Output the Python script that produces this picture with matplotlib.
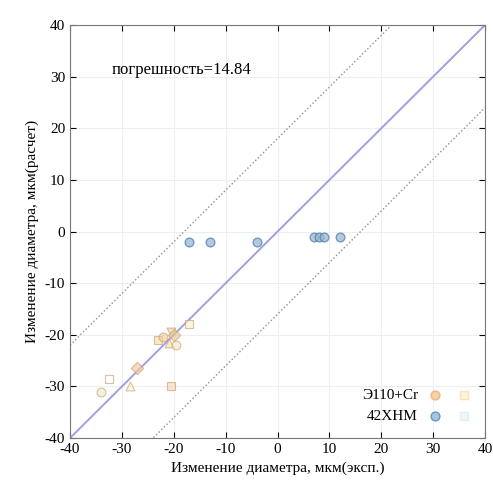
import numpy as np
import matplotlib
matplotlib.use("Agg")
import matplotlib.pyplot as plt
from matplotlib.legend_handler import HandlerTuple

plt.rcParams['font.family'] = ['Liberation Serif', 'DejaVu Serif']
plt.rcParams['axes.unicode_minus'] = False

# experimental vs calculated diameter change, um
e110_x = [-34, -32.5, -28.5, -27, -23, -22, -21, -20.5, -20, -19.5, -17, -20.5]
e110_y = [-31, -28.5, -30, -26.5, -21, -20.5, -21.5, -19.5, -20, -22, -18, -30]
h42_x = [-17, -13, -4, 7, 8, 9, 12]
h42_y = [-2, -2, -2, -1, -1, -1, -1]

err_text = "погрешность=14.84"
band_hi = 18
band_lo = -16
ticks = [-40, -30, -20, -10, 0, 10, 20, 30, 40]

fig = plt.figure(figsize=(4.93, 4.99), dpi=100)
ax = fig.add_axes([0.142, 0.122, 0.842, 0.828])

lim = np.array([-40, 40])
ax.plot(lim, lim, color='#a0a0e0', lw=1.4, zorder=2)
ax.plot(lim, lim + band_hi, ls=':', color='#909090', lw=1.0, zorder=2)
ax.plot(lim, lim + band_lo, ls=':', color='#909090', lw=1.0, zorder=2)

# each Э110 point has its own symbol in the original
e_markers = ['o', 's', '^', 'D', 's', 'o', '^', 'v', 'D', 'o', 's', 's']
e_faces = ['#e6efc8', 'white', '#fff4d8', '#f3c9a0', '#f6dcae', '#f0d0a0',
           '#f7e4b8', '#f2d2a4', '#e8c890', '#f8e8c8', '#fbf0d0', '#f5dcb0']
for x, y, m, fc in zip(e110_x, e110_y, e_markers, e_faces):
    ax.scatter(x, y, marker=m, s=40, facecolor=fc, edgecolor='#c8a070',
               linewidths=0.8, alpha=0.65, zorder=3)

ax.scatter(h42_x, h42_y, marker='o', s=40, facecolor='#9ab8d2',
           edgecolor='#4a7aa8', linewidths=0.9, alpha=0.75, zorder=3)

ax.text(-32, 31.3, err_text, fontsize=12, va='center')

ax.set_xlim(-40, 40)
ax.set_ylim(-40, 40)
ax.set_xticks(ticks)
ax.set_yticks(ticks)
ax.tick_params(direction='in', top=True, right=True, labelsize=11, length=4)
ax.grid(True, color='#eeeeee', lw=0.8)
ax.set_axisbelow(True)
for s in ax.spines.values():
    s.set_color('#777777')

ax.set_xlabel("Изменение диаметра, мкм(эксп.)", fontsize=11)
ax.set_ylabel("Изменение диаметра, мкм(расчет)", fontsize=11)

h1 = ax.scatter([], [], marker='o', s=40, facecolor='#f3d2a8', edgecolor='#e8b888')
h2 = ax.scatter([], [], marker='s', s=40, facecolor='#fdf3d8', edgecolor='#f6e4bc')
h3 = ax.scatter([], [], marker='o', s=40, facecolor='#a8c4e0', edgecolor='#6a96c4')
h4 = ax.scatter([], [], marker='s', s=40, facecolor='#eef6fb', edgecolor='#e0eef6')
ax.legend([(h1, h2), (h3, h4)], ["Э110+Cr", "42ХНМ"], loc='lower right',
          frameon=False, markerfirst=False, fontsize=11,
          handler_map={tuple: HandlerTuple(ndivide=None, pad=1.2)},
          handlelength=2.6, borderaxespad=0.6)

fig.savefig("out.png", dpi=100)
